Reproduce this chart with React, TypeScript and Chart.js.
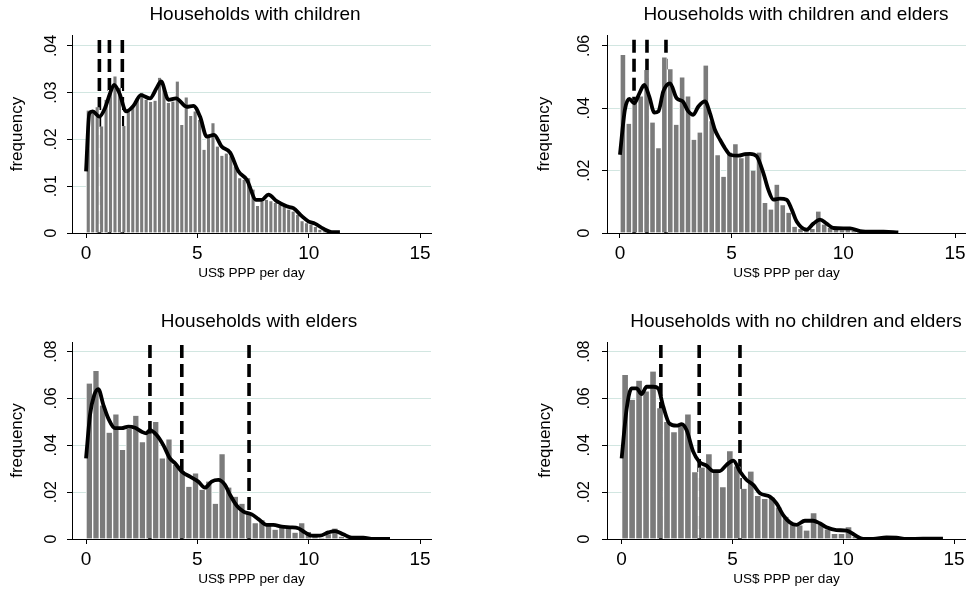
import React, { useEffect, useRef } from "react";
import { Chart, registerables } from "chart.js";

Chart.register(...registerables);

const FONT = '"Liberation Sans", Arial, Helvetica, sans-serif';

// ---------- shared ----------
const xTickValues = [0, 5, 10, 15];
const xAxisTitle = "US$ PPP per day";
const yAxisTitle = "frequency";

// ---------- Panel 1: Households with children ----------
const p1Title = "Households with children";
const p1BinWidth = 0.2;
const p1Bars = [
  0.0262, 0.026, 0.0269, 0.0228, 0.0285, 0.0306, 0.0335, 0.031, 0.0229, 0.026,
  0.027, 0.0288, 0.03, 0.0285, 0.028, 0.0283, 0.0332, 0.031, 0.0278, 0.0281,
  0.0324, 0.0231, 0.029, 0.025, 0.026, 0.0242, 0.0178, 0.0206, 0.0235, 0.0185,
  0.0165, 0.017, 0.0164, 0.0142, 0.0117, 0.0114, 0.0117, 0.0093, 0.0058, 0.0068,
  0.0071, 0.0068, 0.0064, 0.006, 0.0057, 0.005, 0.0046, 0.0039, 0.0025, 0.0021,
  0.0018, 0.0013, 0.0007, 0.0004, 0.0002,
];
const p1CurveX = [
  0, 0.15, 0.3, 0.6, 0.85, 1.08, 1.26, 1.5, 1.8, 2.13, 2.46, 2.87, 3.17, 3.37,
  3.7, 4.04, 4.52, 4.82, 5.12, 5.42, 5.75, 6.09, 6.47, 6.84, 7.22, 7.64, 7.89,
  8.19, 8.56, 9.01, 9.31, 9.69, 9.98, 10.28, 10.66, 11.03, 11.4,
];
const p1CurveY = [
  0.0132, 0.0256, 0.026, 0.0249, 0.0267, 0.0299, 0.0317, 0.0299, 0.026, 0.0272,
  0.0295, 0.0288, 0.031, 0.0324, 0.0285, 0.0288, 0.027, 0.0272, 0.0249, 0.0206,
  0.021, 0.0185, 0.0172, 0.0132, 0.0114, 0.0071, 0.0071, 0.0082, 0.0068, 0.0057,
  0.0053, 0.0036, 0.0025, 0.002, 0.0009, 0.0002, 0.0002,
];
const p1Lines = [0.6, 1.05, 1.63];
const p1LineTop = 0.0413;
const p1YTicks = [0, 0.01, 0.02, 0.03, 0.04];

// ---------- Panel 2: Households with children and elders ----------
const p2Title = "Households with children and elders";
const p2BinWidth = 0.265;
const p2Bars = [
  0.0571, 0.035, 0.0427, 0.0438, 0.0523, 0.0354, 0.0272, 0.0563, 0.0525, 0.0347,
  0.0499, 0.0438, 0.0299, 0.0322, 0.0537, 0.0358, 0.0249, 0.018, 0.0258, 0.0285,
  0.024, 0.0258, 0.02, 0.0258, 0.0096, 0.0075, 0.0155, 0.0089, 0.0065, 0.002,
  0.0013, 0.0009, 0.0013, 0.0069, 0.0027, 0.0016, 0.0011, 0.0009, 0.0011, 0.0008,
  0.0005, 0.0003, 0.0003, 0.0002, 0.0002, 0.0002, 0.0001,
];
const p2CurveX = [
  0, 0.22, 0.42, 0.64, 0.87, 1.09, 1.31, 1.54, 1.72, 1.94, 2.24, 2.54, 2.81,
  3.06, 3.28, 3.51, 3.81, 4.03, 4.25, 4.48, 4.7, 4.93, 5.3, 5.6, 5.82, 6.12,
  6.42, 6.64, 6.87, 7.16, 7.46, 7.69, 7.91, 8.36, 8.66, 8.96, 9.25, 9.55, 10.0,
  10.3, 10.75, 11.3, 11.8, 12.46,
];
const p2CurveY = [
  0.0251, 0.0395, 0.043, 0.0416, 0.0448, 0.0475, 0.0438, 0.0386, 0.039, 0.0454,
  0.048, 0.0432, 0.0422, 0.039, 0.0379, 0.0406, 0.0422, 0.0384, 0.0331, 0.0299,
  0.0272, 0.0251, 0.0248, 0.0253, 0.0254, 0.0246, 0.0192, 0.0139, 0.0107, 0.011,
  0.0107, 0.0075, 0.0037, 0.0011, 0.003, 0.0043, 0.003, 0.0016, 0.0015, 0.0015,
  0.0006, 0.0004, 0.0004, 0.0002,
];
const p2Lines = [0.63, 1.21, 2.06];
const p2LineTop = 0.062;
const p2YTicks = [0, 0.02, 0.04, 0.06];

// ---------- Panel 3: Households with elders ----------
const p3Title = "Households with elders";
const p3BinWidth = 0.298;
const p3Bars = [
  0.0664, 0.0717, 0.057, 0.0454, 0.0532, 0.038, 0.047, 0.0526, 0.0413, 0.045,
  0.05, 0.0344, 0.0425, 0.0316, 0.029, 0.0223, 0.028, 0.021, 0.0245, 0.015,
  0.0362, 0.022, 0.018, 0.015, 0.0107, 0.0067, 0.008, 0.006, 0.004, 0.0053,
  0.005, 0.0027, 0.0067, 0.003, 0.001, 0.0005, 0.002, 0.0045, 0.001, 0.0005,
  0.0005, 0.0003, 0.0003, 0.0002, 0.0002, 0.0002,
];
const p3CurveX = [
  0, 0.18, 0.37, 0.55, 0.78, 1.0, 1.3, 1.6, 1.9, 2.2, 2.5, 2.7, 2.87, 3.17,
  3.47, 3.77, 4.0, 4.3, 4.67, 5.04, 5.34, 5.64, 5.94, 6.24, 6.47, 6.77, 7.07,
  7.44, 7.74, 8.11, 8.41, 8.79, 9.16, 9.53, 9.83, 10.13, 10.5, 10.88, 11.18,
  11.55, 11.93, 12.45, 12.9, 13.65,
];
const p3CurveY = [
  0.0344, 0.053, 0.0615, 0.064, 0.0572, 0.0515, 0.0473, 0.0473, 0.048, 0.0475,
  0.0458, 0.0451, 0.0465, 0.0444, 0.0401, 0.0344, 0.0323, 0.0288, 0.0266, 0.0245,
  0.0219, 0.0245, 0.0252, 0.0231, 0.0188, 0.0142, 0.0117, 0.0105, 0.0085, 0.006,
  0.006, 0.0053, 0.005, 0.0046, 0.0028, 0.0014, 0.0014, 0.0028, 0.0034, 0.002,
  0.0006, 0.0006, 0.0, 0.0,
];
const p3Lines = [2.87, 4.3, 7.32];
const p3LineTop = 0.0828;
const p3YTicks = [0, 0.02, 0.04, 0.06, 0.08];

// ---------- Panel 4: Households with no children and elders ----------
const p4Title = "Households with no children and elders";
const p4BinWidth = 0.315;
const p4Bars = [
  0.07, 0.0594, 0.0676, 0.063, 0.0715, 0.0558, 0.05, 0.0456, 0.0487, 0.0532,
  0.0285, 0.0305, 0.0362, 0.0285, 0.0221, 0.0375, 0.031, 0.0214, 0.0288, 0.0184,
  0.0171, 0.0177, 0.0135, 0.0095, 0.0062, 0.0058, 0.0036, 0.011, 0.006, 0.0041,
  0.0021, 0.0021, 0.005, 0.001, 0.0004, 0.0003, 0.0006, 0.0008, 0.0006, 0.0003,
  0.0002, 0.0002, 0.0003, 0.0002, 0.0002, 0.0001,
];
const p4CurveX = [
  0, 0.23, 0.45, 0.68, 0.9, 1.13, 1.43, 1.65, 1.88, 2.15, 2.48, 2.71, 2.93,
  3.23, 3.5, 3.83, 4.13, 4.43, 4.73, 5.04, 5.34, 5.64, 5.94, 6.24, 6.69, 6.99,
  7.29, 7.59, 7.89, 8.27, 8.64, 8.94, 9.24, 9.69, 10.15, 10.52, 10.9, 11.35,
  11.95, 12.4, 12.85, 13.6, 14.5,
];
const p4CurveY = [
  0.0344, 0.0558, 0.0643, 0.0643, 0.0619, 0.065, 0.065, 0.0643, 0.0565, 0.0494,
  0.0484, 0.049, 0.0465, 0.0373, 0.033, 0.0313, 0.029, 0.029, 0.0316, 0.0335,
  0.0288, 0.0252, 0.0231, 0.0195, 0.0181, 0.0152, 0.0102, 0.0071, 0.006, 0.0078,
  0.0078, 0.0067, 0.005, 0.0038, 0.0036, 0.0017, 0.0, 0.0, 0.0007, 0.0006, 0.0,
  0.0001, 0.0001,
];
const p4Lines = [1.77, 3.5, 5.34];
const p4LineTop = 0.0828;
const p4YTicks = [0, 0.02, 0.04, 0.06, 0.08];

// ---------- layout (positions / sizes, not data) ----------
const CW = 483;
const CH = 295;

type PanelLayout = {
  left: number; top: number;
  areaL: number; areaR: number; areaT: number; areaB: number;
  xMin: number; xMax: number; yMax: number;
  titleX: number; titleY: number;
  yTickX: number; yTitleX: number;
};

const layouts: PanelLayout[] = [
  { left: 0, top: 0, areaL: 72, areaR: 431, areaT: 35, areaB: 233, xMin: -0.63, xMax: 15.49, yMax: 0.04235, titleX: 255, titleY: 15, yTickX: 52, yTitleX: 17 },
  { left: 483, top: 0, areaL: 124, areaR: 483, areaT: 35, areaB: 233, xMin: -0.58, xMax: 15.49, yMax: 0.0635, titleX: 313, titleY: 15, yTickX: 102, yTitleX: 61 },
  { left: 0, top: 295, areaL: 72, areaR: 431, areaT: 47, areaB: 244, xMin: -0.63, xMax: 15.49, yMax: 0.0841, titleX: 259, titleY: 27, yTickX: 52, yTitleX: 17 },
  { left: 483, top: 295, areaL: 124, areaR: 483, areaT: 47, areaB: 244, xMin: -0.66, xMax: 15.54, yMax: 0.0841, titleX: 313, titleY: 27, yTickX: 102, yTitleX: 62 },
];

type PanelData = {
  title: string; binWidth: number; bars: number[];
  curveX: number[]; curveY: number[]; lines: number[]; lineTop: number; yTicks: number[];
};

const panels: PanelData[] = [
  { title: p1Title, binWidth: p1BinWidth, bars: p1Bars, curveX: p1CurveX, curveY: p1CurveY, lines: p1Lines, lineTop: p1LineTop, yTicks: p1YTicks },
  { title: p2Title, binWidth: p2BinWidth, bars: p2Bars, curveX: p2CurveX, curveY: p2CurveY, lines: p2Lines, lineTop: p2LineTop, yTicks: p2YTicks },
  { title: p3Title, binWidth: p3BinWidth, bars: p3Bars, curveX: p3CurveX, curveY: p3CurveY, lines: p3Lines, lineTop: p3LineTop, yTicks: p3YTicks },
  { title: p4Title, binWidth: p4BinWidth, bars: p4Bars, curveX: p4CurveX, curveY: p4CurveY, lines: p4Lines, lineTop: p4LineTop, yTicks: p4YTicks },
];

const BAR_COLOR = "#7b7b7b";
const GRID_COLOR = "#d2e6e1";

function fmtY(v: number): string {
  if (v === 0) return "0";
  return v.toFixed(2).replace(/^0/, "");
}

const textPlugin = {
  id: "panelText",
  afterDraw(chart: any, _args: any, opts: any) {
    const { ctx, chartArea, scales } = chart;
    const xs = scales.x;
    const ys = scales.y;
    ctx.save();
    ctx.fillStyle = "#000";
    ctx.textAlign = "center";
    ctx.textBaseline = "middle";
    // title
    ctx.font = `19px ${FONT}`;
    ctx.fillText(opts.title, opts.titleX, opts.titleY);
    // x tick labels
    ctx.font = `19px ${FONT}`;
    for (const t of xTickValues) {
      ctx.fillText(String(t), xs.getPixelForValue(t), chartArea.bottom + 21);
    }
    // x title
    ctx.font = `13.6px ${FONT}`;
    ctx.fillText(xAxisTitle, (chartArea.left + chartArea.right) / 2, chartArea.bottom + 40);
    // y tick labels (rotated)
    ctx.font = `16px ${FONT}`;
    for (const t of opts.yTicks) {
      ctx.save();
      ctx.translate(opts.yTickX, ys.getPixelForValue(t));
      ctx.rotate(-Math.PI / 2);
      ctx.fillText(fmtY(t), 0, 0);
      ctx.restore();
    }
    // y title
    ctx.font = `17px ${FONT}`;
    ctx.save();
    ctx.translate(opts.yTitleX, (chartArea.top + chartArea.bottom) / 2);
    ctx.rotate(-Math.PI / 2);
    ctx.fillText(yAxisTitle, 0, 0);
    ctx.restore();
    ctx.restore();
  },
};

function Panel({ data, layout }: { data: PanelData; layout: PanelLayout }) {
  const ref = useRef<HTMLCanvasElement | null>(null);
  useEffect(() => {
    if (!ref.current) return;
    const barPoints = data.bars.map((v, i) => ({ x: (i + 0.5) * data.binWidth, y: v }));
    const curvePoints = data.curveX.map((x, i) => ({ x, y: data.curveY[i] }));
    const lineSets = data.lines.map((v) => ({
      type: "line" as const,
      data: [
        { x: v, y: data.lineTop },
        { x: v, y: 0 },
      ],
      borderColor: "#000",
      borderWidth: 3.6,
      borderDash: [13, 6],
      borderCapStyle: "butt" as const,
      pointRadius: 0,
      fill: false,
      order: 3,
    }));
    const chart = new Chart(ref.current, {
      type: "bar",
      data: {
        datasets: [
          {
            type: "line",
            data: curvePoints,
            borderColor: "#000",
            borderWidth: 3.8,
            pointRadius: 0,
            cubicInterpolationMode: "monotone",
            fill: false,
            order: 1,
          } as any,
          {
            type: "bar",
            data: barPoints,
            backgroundColor: BAR_COLOR,
            borderColor: "#ffffff",
            borderWidth: { left: 1, right: 1, top: 0, bottom: 0 },
            borderSkipped: false,
            barPercentage: 1,
            categoryPercentage: 1,
            order: 2,
          } as any,
          ...(lineSets as any[]),
        ],
      },
      options: {
        animation: false,
        responsive: false,
        maintainAspectRatio: false,
        devicePixelRatio: 1,
        layout: {
          padding: { left: 0, top: layout.areaT, right: CW - layout.areaR, bottom: 0 },
        },
        plugins: {
          legend: { display: false },
          tooltip: { enabled: false },
          title: { display: false },
          panelText: {
            title: data.title,
            titleX: layout.titleX,
            titleY: layout.titleY,
            yTicks: data.yTicks,
            yTickX: layout.yTickX,
            yTitleX: layout.yTitleX,
          },
        } as any,
        scales: {
          x: {
            type: "linear",
            min: layout.xMin,
            max: layout.xMax,
            offset: false,
            afterBuildTicks: (scale: any) => {
              scale.ticks = xTickValues.map((v) => ({ value: v }));
            },
            afterFit: (scale: any) => {
              scale.height = CH - layout.areaB;
            },
            ticks: { display: false },
            grid: {
              offset: false,
              drawOnChartArea: false,
              drawTicks: true,
              tickLength: 5,
              tickColor: "#000",
              tickWidth: 1,
            },
            border: { display: true, color: "#000", width: 1 },
          },
          y: {
            type: "linear",
            min: 0,
            max: layout.yMax,
            afterBuildTicks: (scale: any) => {
              scale.ticks = data.yTicks.map((v) => ({ value: v }));
            },
            afterFit: (scale: any) => {
              scale.width = layout.areaL;
            },
            ticks: { display: false },
            grid: {
              offset: false,
              drawOnChartArea: true,
              drawTicks: true,
              tickLength: 5,
              tickColor: "#000",
              color: (c: any) => (c.tick && c.tick.value === 0 ? "rgba(0,0,0,0)" : GRID_COLOR),
              lineWidth: 1,
            },
            border: { display: true, color: "#000", width: 1 },
          },
        },
      } as any,
      plugins: [textPlugin as any],
    });
    return () => chart.destroy();
  }, [data, layout]);

  return (
    <canvas
      ref={ref}
      width={CW}
      height={CH}
      style={{ position: "absolute", left: layout.left, top: layout.top, width: CW, height: CH }}
    />
  );
}

export default function App() {
  return (
    <div
      style={{
        position: "absolute",
        left: 0,
        top: 0,
        width: 966,
        height: 590,
        background: "#ffffff",
        overflow: "hidden",
      }}
    >
      {panels.map((p, i) => (
        <Panel key={i} data={p} layout={layouts[i]} />
      ))}
    </div>
  );
}
